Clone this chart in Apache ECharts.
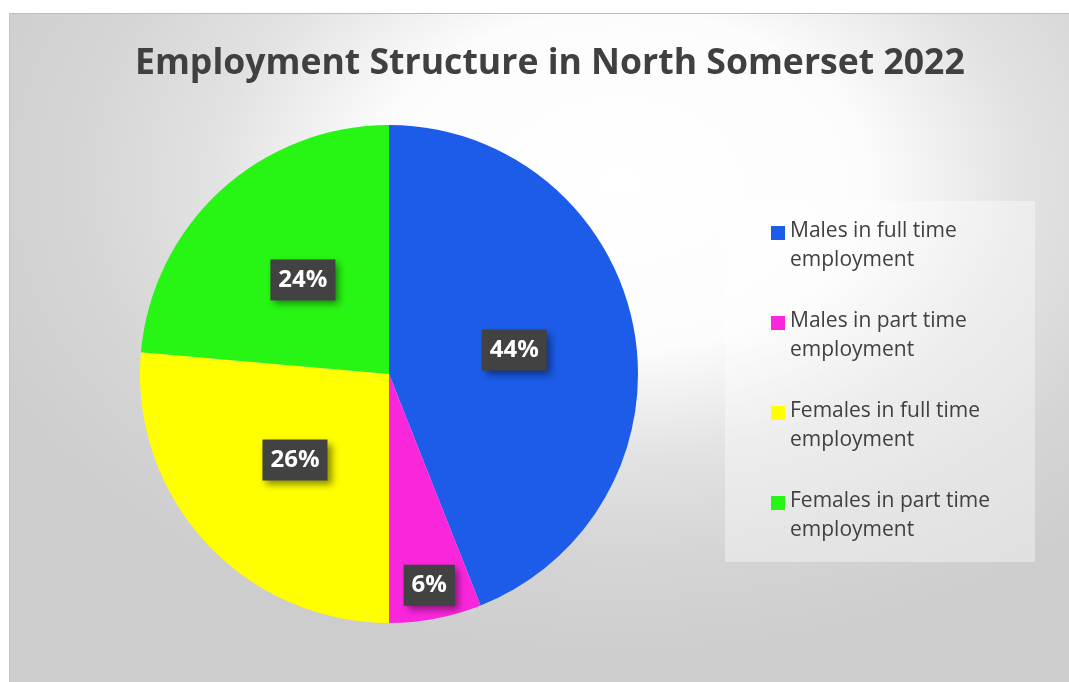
<!DOCTYPE html>
<html>
<head>
<meta charset="utf-8">
<script src="https://cdn.jsdelivr.net/npm/echarts@6/dist/echarts.min.js"></script>
<style>
  html, body { margin: 0; padding: 0; background: #ffffff; }
  #frame {
    position: absolute; left: 9px; top: 13px; width: 1060px; height: 669px;
    box-sizing: border-box; border-top: 1px solid #bdbdbd; border-left: 1px solid #c4c4c4;
    background: radial-gradient(700px 480px at 611px 167px, #ffffff 0%, #fcfcfc 35%, #e2e2e2 58%, #d5d5d5 78%, #cdcdcd 100%);
  }
  #chart { position: absolute; left: 0; top: 0; width: 1069px; height: 682px; }
</style>
</head>
<body>
<div id="frame"></div>
<div id="chart"></div>
<script>
const titleText = 'Employment Structure in North Somerset 2022';
const categories = [
  'Males in full time employment',
  'Males in part time employment',
  'Females in full time employment',
  'Females in part time employment'
];
const values = [44.0, 6.0, 26.4, 23.6];
const colors = ['#1c5ce8', '#fa26dc', '#ffff00', '#27f513'];

const data = categories.map((c, i) => ({ name: c, value: values[i], itemStyle: { color: colors[i] } }));

const labelStyle = {
  show: true,
  position: 'inside',
  formatter: p => Math.round(p.percent) + '%',
  color: '#ffffff',
  fontFamily: 'Open Sans',
  fontWeight: 'bold',
  fontSize: 24,
  lineHeight: 25,
  backgroundColor: '#424242',
  padding: [8, 8, 8, 8],
  shadowColor: 'rgba(0,0,0,0.45)',
  shadowBlur: 7,
  shadowOffsetX: 4,
  shadowOffsetY: 4
};

const chart = echarts.init(document.getElementById('chart'), null, { renderer: 'canvas' });
chart.setOption({
  animation: false,
  backgroundColor: 'transparent',
  title: {
    text: titleText,
    left: 130,
    top: 41,
    textStyle: { fontFamily: 'Open Sans', fontWeight: 'bold', fontSize: 35.6, color: '#404040' }
  },
  legend: {
    orient: 'vertical',
    left: 725,
    top: 201,
    data: categories,
    padding: [16, 45, 17, 46],
    itemGap: 32,
    itemWidth: 14,
    itemHeight: 58,
    icon: 'path://M0,0L0,0M0,9H14V23H0ZM0,58L0,58',
    backgroundColor: 'rgba(255,255,255,0.38)',
    formatter: n => n.replace(' employment', '\nemployment'),
    textStyle: { fontFamily: 'Open Sans', fontSize: 21, lineHeight: 29, color: '#404040' }
  },
  series: [
    {
      type: 'pie',
      center: [389, 374],
      radius: [0, 249],
      startAngle: 90,
      clockwise: true,
      silent: true,
      avoidLabelOverlap: false,
      data: data.map((d, i) => Object.assign({}, d, { label: { show: i !== 1 } })),
      label: labelStyle,
      labelLine: { show: false }
    },
    {
      type: 'pie',
      center: [389, 374],
      radius: [175, 249],
      startAngle: 90,
      clockwise: true,
      silent: true,
      avoidLabelOverlap: false,
      z: 3,
      data: data.map((d, i) => ({ name: d.name, value: d.value, itemStyle: { color: 'rgba(0,0,0,0)' }, label: { show: i === 1 } })),
      label: labelStyle,
      labelLine: { show: false },
      emphasis: { disabled: true }
    }
  ]
});
</script>
</body>
</html>
